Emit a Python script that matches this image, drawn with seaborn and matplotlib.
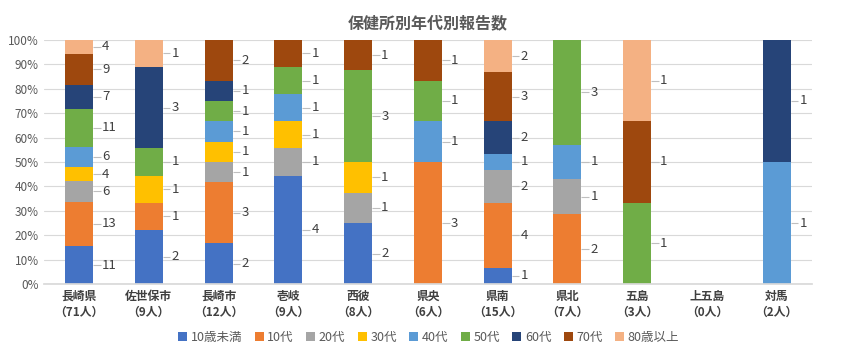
import numpy as np
import pandas as pd
import matplotlib
matplotlib.use("Agg")
import matplotlib.pyplot as plt
import seaborn as sns

# categories (health center + reported count)
centers = ["長崎県\n（71人）", "佐世保市\n（9人）", "長崎市\n（12人）", "壱岐\n（9人）", "西彼\n（8人）",
           "県央\n（6人）", "県南\n（15人）", "県北\n（7人）", "五島\n（3人）", "上五島\n（0人）", "対馬\n（2人）"]
age_groups = ["10歳未満", "10代", "20代", "30代", "40代", "50代", "60代", "70代", "80歳以上"]

# counts per age group, one value per center
under10 = [11, 2, 2, 4, 2, 0, 1, 0, 0, 0, 0]
teens = [13, 1, 3, 0, 0, 3, 4, 2, 0, 0, 0]
twenties = [6, 0, 1, 1, 1, 0, 2, 1, 0, 0, 0]
thirties = [4, 1, 1, 1, 1, 0, 0, 0, 0, 0, 0]
forties = [6, 0, 1, 1, 0, 1, 1, 1, 0, 0, 1]
fifties = [11, 1, 1, 1, 3, 1, 0, 3, 1, 0, 0]
sixties = [7, 3, 1, 0, 0, 0, 2, 0, 0, 0, 1]
seventies = [9, 0, 2, 1, 1, 1, 3, 0, 1, 0, 0]
over80 = [4, 1, 0, 0, 0, 0, 2, 0, 1, 0, 0]

colors = ["#4472C4", "#ED7D31", "#A5A5A5", "#FFC000", "#5B9BD5",
          "#70AD47", "#264478", "#9E480E", "#F4B183"]

sns.set_theme(style="white")
plt.rcParams["font.family"] = ["Noto Sans CJK JP", "DejaVu Sans"]

counts = np.array([under10, teens, twenties, thirties, forties, fifties,
                   sixties, seventies, over80], dtype=float)
totals = counts.sum(axis=0)
share = np.divide(counts, totals, out=np.zeros_like(counts), where=totals > 0)

fig = plt.figure(figsize=(8.49, 3.56), dpi=100)
ax = fig.add_axes([0.052, 0.202, 0.904, 0.686])

x = np.arange(len(centers))
bottom = np.zeros(len(centers))
for i, grp in enumerate(age_groups):
    df = pd.DataFrame({"center": centers, "share": share[i]})
    sns.barplot(data=df, x="center", y="share", order=centers, color=colors[i],
                width=0.4, bottom=bottom, ax=ax, label=grp, saturation=1,
                linewidth=0)
    # data labels with leader lines
    for j in range(len(centers)):
        if counts[i, j] == 0:
            continue
        ym = bottom[j] + share[i, j] / 2
        ax.plot([x[j] + 0.2, x[j] + 0.31], [ym, ym], color="#BFBFBF", lw=0.8,
                solid_capstyle="butt")
        ax.text(x[j] + 0.33, ym, f"{int(counts[i, j])}", ha="left", va="center",
                fontsize=9.5, color="#404040")
    bottom = bottom + share[i]

ax.set_xlim(-0.5, len(centers) - 0.5)
ax.set_ylim(0, 1)
ax.set_yticks(np.arange(0, 1.01, 0.1))
ax.set_yticklabels([f"{int(round(v * 100))}%" for v in np.arange(0, 1.01, 0.1)],
                   fontsize=8.5, color="#595959")
ax.set_xticks(x)
ax.set_xticklabels(centers, fontsize=8.5, color="#404040", fontweight="bold",
                   linespacing=1.3)
ax.tick_params(axis="both", length=0, pad=4)
ax.set_xlabel("")
ax.set_ylabel("")
ax.yaxis.grid(True, color="#D9D9D9", lw=0.8)
ax.set_axisbelow(True)
for s in ["top", "right", "left"]:
    ax.spines[s].set_visible(False)
ax.spines["bottom"].set_color("#D9D9D9")

ax.set_title("保健所別年代別報告数", fontsize=11.5, fontweight="bold",
             color="#595959", pad=8)

handles, labels = ax.get_legend_handles_labels()
if ax.get_legend() is not None:
    ax.get_legend().remove()
fig.legend(handles, labels, loc="center", bbox_to_anchor=(0.505, 0.052), ncol=9,
           frameon=False, fontsize=9, handlelength=0.7, handleheight=0.7,
           handletextpad=0.3, columnspacing=1.0, labelcolor="#595959")

fig.savefig("out.png", dpi=100)
